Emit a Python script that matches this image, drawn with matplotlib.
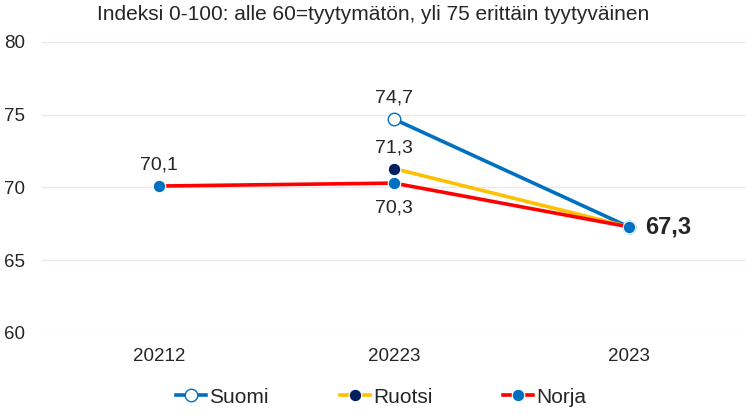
import numpy as np
import matplotlib.pyplot as plt

plt.rcParams['font.family'] = ['Liberation Sans', 'DejaVu Sans']

# Data
years = ["20212", "20223", "2023"]
suomi = [np.nan, 74.7, 67.3]
ruotsi = [np.nan, 71.3, 67.3]
norja = [70.1, 70.3, 67.3]
subtitle = "Indeksi 0-100: alle 60=tyytymätön, yli 75 erittäin tyytyväinen"

text_col = "#262626"
x = np.arange(len(years))

fig = plt.figure(figsize=(7.46, 4.19), dpi=100)
ax = fig.add_axes([0.0563, 0.2053, 0.9437, 0.6945])

ax.plot(x, suomi, color="#0070C0", lw=2.6, marker="o", ms=9,
        mfc="white", mec="#0070C0", mew=1.0, label="Suomi", zorder=3)
ax.plot(x, ruotsi, color="#FFC000", lw=2.6, marker="o", ms=9,
        mfc="#002060", mec="white", mew=0.8, label="Ruotsi", zorder=4)
ax.plot(x, norja, color="#FF0000", lw=2.6, marker="o", ms=9,
        mfc="#0070C0", mec="white", mew=0.8, label="Norja", zorder=5)

def fmt(v):
    return f"{v:.1f}".replace(".", ",")

# data labels
lab = dict(textcoords="offset points", ha="center", fontsize=14, color=text_col)
ax.annotate(fmt(suomi[1]), (x[1], suomi[1]), xytext=(0, 9), va="bottom", **lab)
ax.annotate(fmt(ruotsi[1]), (x[1], ruotsi[1]), xytext=(0, 9), va="bottom", **lab)
ax.annotate(fmt(norja[0]), (x[0], norja[0]), xytext=(0, 9), va="bottom", **lab)
ax.annotate(fmt(norja[1]), (x[1], norja[1]), xytext=(0, -12), va="top", **lab)
ax.annotate(fmt(norja[2]), (x[2], norja[2]), xytext=(12, 0), textcoords="offset points",
            ha="left", va="center", fontsize=17, fontweight="bold", color=text_col)

ax.set_xlim(-0.5, 2.5)
ax.set_ylim(60, 80)
ax.set_yticks([60, 65, 70, 75, 80])
ax.set_xticks(x)
ax.set_xticklabels(years)
ax.tick_params(axis="both", length=0, labelsize=13.5, colors=text_col)
ax.tick_params(axis="x", pad=11)
ax.tick_params(axis="y", pad=12)
ax.grid(axis="y", color="#F0E6E6", lw=1.0)
ax.set_axisbelow(True)
for s in ax.spines.values():
    s.set_visible(False)

fig.text(0.5, 1 - 15 / 419, subtitle, ha="center", va="center", fontsize=15, color=text_col)

fig.legend(loc="center", bbox_to_anchor=(0.511, 1 - 397 / 419), ncol=3, frameon=False,
           fontsize=15, handlelength=1.45, handletextpad=0.15, columnspacing=3.4,
           labelcolor=text_col)

fig.savefig("out.png", dpi=100)
